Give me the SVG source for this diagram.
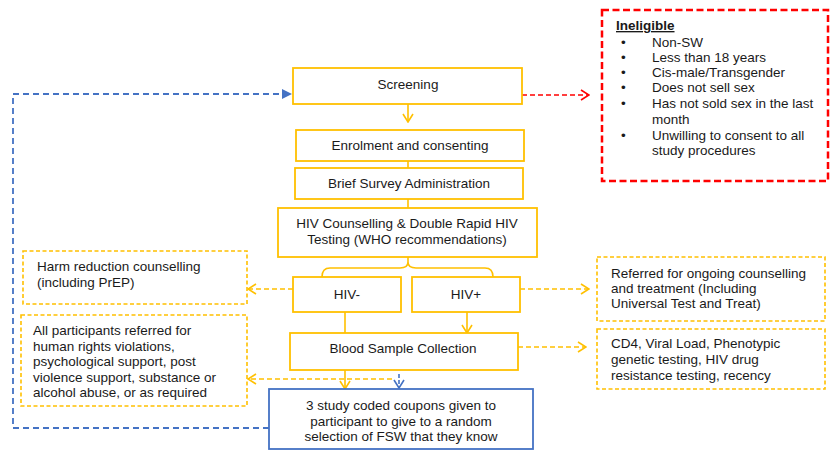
<svg xmlns="http://www.w3.org/2000/svg" width="830" height="454" viewBox="0 0 830 454">
<defs>
<style>
text{font-family:"Liberation Sans",Arial,sans-serif;font-size:13.5px;fill:#1a1a1a}
.c{text-anchor:middle}
.box{fill:#fff;stroke:#FFC000;stroke-width:1.8}
.dbox{fill:#fff;stroke:#FFC000;stroke-width:1.6;stroke-dasharray:4 2.5}
.yl{fill:none;stroke:#FFC000;stroke-width:1.6}
.yd{fill:none;stroke:#FFC000;stroke-width:1.6;stroke-dasharray:5 3}
.bd{fill:none;stroke:#4472C4;stroke-width:1.8;stroke-dasharray:6 4}
</style>
<marker id="ay" markerUnits="userSpaceOnUse" viewBox="0 0 10 12" refX="9" refY="6" markerWidth="10" markerHeight="12" orient="auto">
<path d="M1,1 L9,6 L1,11" fill="none" stroke="#FFC000" stroke-width="1.6"/>
</marker>
<marker id="ar" markerUnits="userSpaceOnUse" viewBox="0 0 10 12" refX="9" refY="6" markerWidth="10" markerHeight="12" orient="auto">
<path d="M1,1 L9,6 L1,11" fill="none" stroke="#FF0000" stroke-width="1.6"/>
</marker>
<marker id="ab" markerUnits="userSpaceOnUse" viewBox="0 0 10 12" refX="9" refY="6" markerWidth="10" markerHeight="12" orient="auto">
<path d="M1,1 L9,6 L1,11" fill="none" stroke="#4472C4" stroke-width="1.6"/>
</marker>
<marker id="abf" markerUnits="userSpaceOnUse" viewBox="0 0 10 10" refX="9" refY="5" markerWidth="10" markerHeight="10" orient="auto">
<path d="M0,0 L10,5 L0,10 Z" fill="#4472C4"/>
</marker>
</defs>
<rect width="830" height="454" fill="#fff"/>

<g id="connectors">
<line class="yl" x1="408" y1="104" x2="408" y2="122" marker-end="url(#ay)"/>
<line class="yl" x1="408" y1="161" x2="408" y2="168"/>
<line class="yl" x1="408" y1="199" x2="408" y2="208"/>
<path class="yl" d="M322,277 Q322,268 330,268 L400,268 Q408,268 408,262 L408,257 M493,277 Q493,268 485,268 L416,268 Q408,268 408,262"/>
<line class="yd" x1="293" y1="289" x2="248" y2="289" marker-end="url(#ay)"/>
<line class="yd" x1="520" y1="289" x2="589" y2="289" marker-end="url(#ay)"/>
<line class="yl" x1="345" y1="312" x2="345" y2="333"/>
<line class="yl" x1="467" y1="312" x2="467" y2="333" marker-end="url(#ay)"/>
<line class="yd" x1="518" y1="347" x2="586" y2="347" marker-end="url(#ay)"/>
<line class="yl" x1="345" y1="370" x2="345" y2="389" marker-end="url(#ay)"/>
<line class="yd" x1="392" y1="379" x2="248" y2="379" marker-end="url(#ay)"/>
<line x1="399" y1="374" x2="399" y2="388" fill="none" stroke="#4472C4" stroke-width="1.6" stroke-dasharray="4 2" marker-end="url(#ab)"/>
<path class="bd" d="M269,428 L13,428 L13,94 L291,94" marker-end="url(#abf)"/>
<line x1="522" y1="95" x2="589" y2="95" fill="none" stroke="#FF0000" stroke-width="1.6" stroke-dasharray="5 3" marker-end="url(#ar)"/>
</g>

<g id="screening">
<rect class="box" x="293" y="68" width="229" height="36"/>
<text class="c" x="408" y="89">Screening</text>
</g>
<g id="enrolment">
<rect class="box" x="296" y="130" width="228" height="31"/>
<text class="c" x="410" y="150">Enrolment and consenting</text>
</g>
<g id="survey">
<rect class="box" x="295" y="168" width="228" height="31"/>
<text class="c" x="409" y="188">Brief Survey Administration</text>
</g>
<g id="testing">
<rect class="box" x="278" y="208" width="259" height="49"/>
<text class="c" x="407" y="228">HIV Counselling &amp; Double Rapid HIV</text>
<text class="c" x="407" y="244">Testing (WHO recommendations)</text>
</g>
<g id="hivneg">
<rect class="box" x="293" y="277" width="108" height="35"/>
<text class="c" x="347" y="299">HIV-</text>
</g>
<g id="hivpos">
<rect class="box" x="412" y="277" width="108" height="35"/>
<text class="c" x="466" y="299">HIV+</text>
</g>
<g id="blood">
<rect class="box" x="290" y="333" width="228" height="37"/>
<text class="c" x="403" y="353">Blood Sample Collection</text>
</g>
<g id="coupons">
<rect x="269" y="389" width="264" height="60" fill="#fff" stroke="#4472C4" stroke-width="1.8"/>
<text class="c" x="401" y="410">3 study coded coupons given to</text>
<text class="c" x="401" y="426">participant to give to a random</text>
<text class="c" x="401" y="441">selection of FSW that they know</text>
</g>
<g id="harm">
<rect class="dbox" x="23" y="251" width="224" height="53"/>
<text x="37" y="271">Harm reduction counselling</text>
<text x="37" y="287">(including PrEP)</text>
</g>
<g id="allparticipants">
<rect class="dbox" x="21" y="315" width="226" height="91"/>
<text x="33" y="335">All participants referred for</text>
<text x="33" y="351">human rights violations,</text>
<text x="33" y="366">psychological support, post</text>
<text x="33" y="382">violence support, substance or</text>
<text x="33" y="397">alcohol abuse, or as required</text>
</g>
<g id="referred">
<rect class="dbox" x="597" y="257" width="228" height="64"/>
<text x="611" y="278">Referred for ongoing counselling</text>
<text x="611" y="293">and treatment (Including</text>
<text x="611" y="308">Universal Test and Treat)</text>
</g>
<g id="cd4">
<rect class="dbox" x="597" y="329" width="228" height="60"/>
<text x="611" y="348">CD4, Viral Load, Phenotypic</text>
<text x="611" y="364">genetic testing, HIV drug</text>
<text x="611" y="380">resistance testing, recency</text>
</g>
<g id="ineligible">
<rect x="602" y="10" width="226" height="171" fill="#fff" stroke="#FF0000" stroke-width="2.5" stroke-dasharray="7 3.5"/>
<text x="616" y="30" font-weight="bold" text-decoration="underline">Ineligible</text>
<text x="621" y="47">•</text><text x="652" y="47">Non-SW</text>
<text x="621" y="62">•</text><text x="652" y="62">Less than 18 years</text>
<text x="621" y="77">•</text><text x="652" y="77">Cis-male/Transgender</text>
<text x="621" y="92">•</text><text x="652" y="92">Does not sell sex</text>
<text x="621" y="108">•</text><text x="652" y="108">Has not sold sex in the last</text>
<text x="652" y="124">month</text>
<text x="621" y="140">•</text><text x="652" y="140">Unwilling to consent to all</text>
<text x="652" y="155">study procedures</text>
</g>
</svg>
